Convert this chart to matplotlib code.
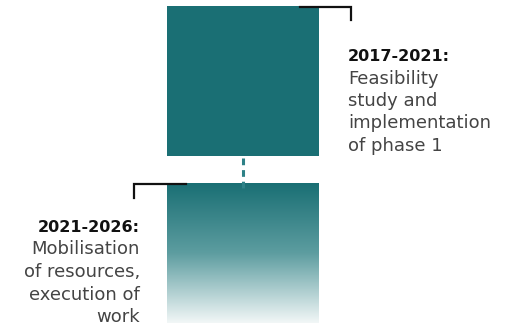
"""
Two-phase timeline: solid block for phase 1, fading block for phase 2.
"""

import numpy as np
import matplotlib.pyplot as plt
from matplotlib.colors import LinearSegmentedColormap

# phases, top to bottom
periods = ["2017-2021:", "2021-2026:"]
descriptions = [
    ["Feasibility", "study and", "implementation", "of phase 1"],
    ["Mobilisation", "of resources,", "execution of", "work"],
]

TEAL = "#1a6f74"
DOT = "#2e8187"


def _main():
    fig = plt.figure(figsize=(5.08, 3.23), dpi=100)
    ax = fig.add_axes([0, 0, 1, 1])
    ax.set_xlim(0, 508)
    ax.set_ylim(323, 0)
    ax.axis("off")

    # phase 1: solid square
    ax.add_patch(plt.Rectangle((167, 6), 152, 150, color=TEAL, lw=0))

    # phase 2: gradient block fading to white
    cmap = LinearSegmentedColormap.from_list("fade", [TEAL, "#5d9da0", "#f2f7f7"])
    grad = np.linspace(0, 1, 256).reshape(-1, 1)
    ax.imshow(grad, cmap=cmap, aspect="auto", extent=(167, 319, 323, 183),
              interpolation="bicubic")
    ax.set_xlim(0, 508)
    ax.set_ylim(323, 0)

    # dotted link between the blocks
    ax.plot([243, 243], [158, 190], color=DOT, lw=2.2, ls=(0, (2.2, 1.6)),
            solid_capstyle="butt")

    # corner brackets
    ax.plot([300, 351, 351], [7, 7, 20], color="#111111", lw=1.6,
            solid_joinstyle="miter")
    ax.plot([186, 134, 134], [184, 184, 198], color="#111111", lw=1.6,
            solid_joinstyle="miter")

    font = ["DejaVu Sans"]
    fs_head = 11.5
    fs = 13
    step = 22.5

    # right-hand label (phase 1)
    y = 61
    ax.text(348, y, periods[0], fontsize=fs_head, fontweight="bold",
            color="#111111", family=font, va="baseline", ha="left")
    for line in descriptions[0]:
        y += step
        ax.text(348, y, line, fontsize=fs, color="#444444", family=font,
                va="baseline", ha="left")

    # left-hand label (phase 2)
    y = 232
    ax.text(140, y, periods[1], fontsize=fs_head, fontweight="bold",
            color="#111111", family=font, va="baseline", ha="right")
    for line in descriptions[1]:
        y += step
        ax.text(140, y, line, fontsize=fs, color="#444444", family=font,
                va="baseline", ha="right")

    fig.savefig("out.png", dpi=100)


if __name__ == "__main__":
    _main()
